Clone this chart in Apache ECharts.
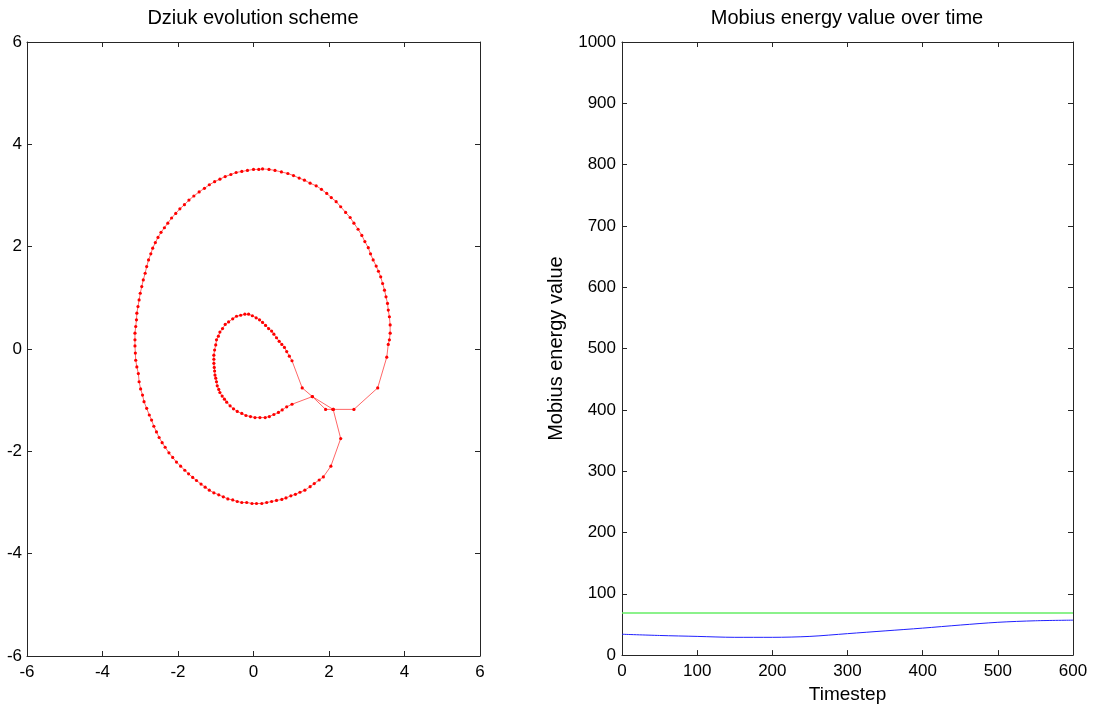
<!DOCTYPE html>
<html>
<head>
<meta charset="utf-8">
<script src="https://cdn.jsdelivr.net/npm/echarts@6/dist/echarts.min.js"></script>
<style>
  html, body { margin: 0; padding: 0; background: #ffffff; }
  #chart { width: 1097px; height: 709px; }
</style>
</head>
<body>
<div id="chart"></div>
<script>
// Curve vertices (x, y), split into the pieces the closed polygon passes through.
const bridgeDown = [[2.11,-1.18],[2.31,-1.75],[2.05,-2.29]];
const outerLoop = [
  [1.85,-2.50],[1.74,-2.56],[1.61,-2.63],[1.50,-2.69],[1.36,-2.76],[1.23,-2.80],[1.11,-2.84],[0.99,-2.87],
  [0.86,-2.91],[0.75,-2.94],[0.61,-2.96],[0.48,-2.98],[0.35,-3.00],[0.22,-3.02],[0.08,-3.02],[-0.04,-3.02],
  [-0.18,-3.00],[-0.31,-3.00],[-0.43,-2.98],[-0.55,-2.95],[-0.68,-2.93],[-0.80,-2.89],[-0.92,-2.85],[-1.05,-2.81],
  [-1.17,-2.76],[-1.28,-2.70],[-1.39,-2.64],[-1.51,-2.57],[-1.61,-2.51],[-1.72,-2.44],[-1.82,-2.37],[-1.93,-2.29],
  [-2.04,-2.21],[-2.14,-2.12],[-2.24,-2.03],[-2.34,-1.92],[-2.42,-1.83],[-2.50,-1.73],[-2.57,-1.62],[-2.64,-1.51],
  [-2.70,-1.39],[-2.76,-1.29],[-2.83,-1.16],[-2.90,-1.03],[-2.94,-0.90],[-2.99,-0.78],[-3.03,-0.64],[-3.05,-0.48],
  [-3.09,-0.35],[-3.12,-0.22],[-3.13,-0.08],[-3.14,0.06],[-3.14,0.18],[-3.14,0.31],[-3.12,0.44],[-3.10,0.57],
  [-3.09,0.70],[-3.06,0.83],[-3.03,0.96],[-3.00,1.09],[-2.96,1.22],[-2.92,1.35],[-2.87,1.48],[-2.83,1.61],
  [-2.78,1.74],[-2.72,1.86],[-2.67,1.97],[-2.60,2.08],[-2.53,2.18],[-2.45,2.28],[-2.36,2.37],[-2.27,2.46],
  [-2.17,2.56],[-2.06,2.65],[-1.95,2.74],[-1.83,2.82],[-1.71,2.91],[-1.58,2.99],[-1.44,3.07],[-1.30,3.14],
  [-1.17,3.21],[-1.03,3.27],[-0.89,3.32],[-0.75,3.37],[-0.60,3.41],[-0.46,3.45],[-0.31,3.47],[-0.16,3.49],
  [0.00,3.51],[0.14,3.51],[0.24,3.52],[0.41,3.51],[0.57,3.49],[0.74,3.46],[0.91,3.43],[1.06,3.39],
  [1.21,3.34],[1.35,3.30],[1.50,3.24],[1.66,3.19],[1.80,3.12],[1.94,3.04],[2.06,2.96],[2.19,2.88],
  [2.31,2.78],[2.44,2.67],[2.56,2.57],[2.66,2.46],[2.77,2.34],[2.87,2.22],[2.95,2.10],[3.04,1.98],
  [3.10,1.86],[3.17,1.74],[3.25,1.62],[3.31,1.52],[3.37,1.41],[3.42,1.28],[3.47,1.15],[3.51,1.02],
  [3.55,0.89],[3.57,0.76],[3.60,0.63],[3.62,0.47],[3.62,0.31],[3.60,0.18],[3.57,0.09],[3.53,-0.16]
];
const bridgeRight = [[3.29,-0.76],[2.66,-1.18],[2.11,-1.18],[1.56,-0.93]];
const innerLoop = [
  [1.02,-1.08],[0.88,-1.13],[0.76,-1.19],[0.66,-1.24],[0.54,-1.28],[0.42,-1.32],[0.31,-1.34],[0.17,-1.34],
  [0.04,-1.34],[-0.08,-1.32],[-0.20,-1.30],[-0.31,-1.26],[-0.43,-1.22],[-0.53,-1.17],[-0.62,-1.11],[-0.71,-1.04],
  [-0.77,-0.98],[-0.83,-0.92],[-0.89,-0.85],[-0.92,-0.79],[-0.96,-0.72],[-0.98,-0.64],[-1.00,-0.57],[-1.02,-0.51],
  [-1.03,-0.43],[-1.04,-0.36],[-1.05,-0.28],[-1.05,-0.20],[-1.05,-0.12],[-1.03,-0.02],[-1.00,0.08],[-0.98,0.18],
  [-0.93,0.25],[-0.89,0.33],[-0.82,0.40],[-0.75,0.48],[-0.66,0.53],[-0.55,0.59],[-0.45,0.64],[-0.34,0.66],
  [-0.23,0.68],[-0.13,0.68],[-0.03,0.65],[0.07,0.61],[0.16,0.57],[0.24,0.52],[0.32,0.46],[0.40,0.40],
  [0.48,0.35],[0.54,0.29],[0.61,0.22],[0.68,0.15],[0.75,0.09],[0.82,0.03],[0.88,-0.05],[0.95,-0.14],
  [1.02,-0.23]
];
const bridgeLeft = [[1.29,-0.76],[1.56,-0.93],[1.91,-1.18],[2.11,-1.18]];

// Energy per timestep.
const timesteps = [0, 50, 100, 150, 200, 250, 300, 350, 400, 450, 500, 550, 600];
const mobiusEnergy = [34, 32, 30.5, 29, 29, 30.5, 35, 39.5, 44, 49, 53.5, 56, 57];
const referenceEnergy = [68.5, 68.5, 68.5, 68.5, 68.5, 68.5, 68.5, 68.5, 68.5, 68.5, 68.5, 68.5, 68.5];

const curve = [].concat(bridgeDown, outerLoop, bridgeRight, innerLoop, bridgeLeft);

const FONT = "'Liberation Sans', Arial, Helvetica, sans-serif";
const AXIS_COLOR = '#262626';
const TICK_FONT = 17;
const TITLE_FONT = 20;
const XNAME_FONT = 19;

function tickLabel(margin) {
  return { show: true, color: '#000', fontSize: TICK_FONT, fontFamily: FONT, margin: margin,
           formatter: v => String(v) };
}

function boxAxis(opts) {
  return Object.assign({
    type: 'value',
    axisLine: { show: true, onZero: false, lineStyle: { color: AXIS_COLOR, width: 1 } },
    axisTick: { show: true, inside: true, length: 5, lineStyle: { color: AXIS_COLOR, width: 1 } },
    axisLabel: { show: false },
    splitLine: { show: false },
    nameTextStyle: { color: '#000', fontSize: TITLE_FONT, fontFamily: FONT }
  }, opts);
}

const chart = echarts.init(document.getElementById('chart'), null, { renderer: 'canvas' });

chart.setOption({
  animation: false,
  backgroundColor: '#ffffff',
  title: [
    { text: 'Dziuk evolution scheme', left: 253, top: 8, textAlign: 'center', padding: 0,
      textStyle: { fontSize: TITLE_FONT, fontWeight: 'normal', color: '#000', fontFamily: FONT } },
    { text: 'Mobius energy value over time', left: 847, top: 8, textAlign: 'center', padding: 0,
      textStyle: { fontSize: TITLE_FONT, fontWeight: 'normal', color: '#000', fontFamily: FONT } }
  ],
  grid: [
    { left: 27, top: 42, width: 453, height: 614, containLabel: false },
    { left: 622, top: 42, width: 451, height: 614, containLabel: false }
  ],
  xAxis: [
    boxAxis({ gridIndex: 0, position: 'bottom', min: -6, max: 6, interval: 2, axisLabel: tickLabel(8) }),
    boxAxis({ gridIndex: 0, position: 'top', min: -6, max: 6, interval: 2 }),
    boxAxis({ gridIndex: 1, position: 'bottom', min: 0, max: 600, interval: 100,
      name: 'Timestep', nameLocation: 'middle', nameGap: 28, axisLabel: tickLabel(8),
      nameTextStyle: { color: '#000', fontSize: XNAME_FONT, fontFamily: FONT } }),
    boxAxis({ gridIndex: 1, position: 'top', min: 0, max: 600, interval: 100 })
  ],
  yAxis: [
    boxAxis({ gridIndex: 0, position: 'left', min: -6, max: 6, interval: 2, axisLabel: tickLabel(5) }),
    boxAxis({ gridIndex: 0, position: 'right', min: -6, max: 6, interval: 2 }),
    boxAxis({ gridIndex: 1, position: 'left', min: 0, max: 1000, interval: 100,
      name: 'Mobius energy value', nameLocation: 'middle', nameGap: 56, axisLabel: tickLabel(6) }),
    boxAxis({ gridIndex: 1, position: 'right', min: 0, max: 1000, interval: 100 })
  ],
  series: [
    {
      name: 'curve',
      type: 'line',
      xAxisIndex: 0,
      yAxisIndex: 0,
      data: curve,
      showSymbol: true,
      showAllSymbol: true,
      symbol: 'circle',
      symbolSize: 3.2,
      itemStyle: { color: '#ff0000' },
      lineStyle: { color: 'rgba(255,0,0,0.6)', width: 1 },
      silent: true
    },
    {
      name: 'reference',
      type: 'line',
      xAxisIndex: 2,
      yAxisIndex: 2,
      data: timesteps.map((t, i) => [t, referenceEnergy[i]]),
      showSymbol: false,
      lineStyle: { color: '#66ee66', width: 1.5 },
      silent: true
    },
    {
      name: 'mobius',
      type: 'line',
      xAxisIndex: 2,
      yAxisIndex: 2,
      data: timesteps.map((t, i) => [t, mobiusEnergy[i]]),
      showSymbol: false,
      smooth: 0.3,
      lineStyle: { color: '#2020ff', width: 1 },
      silent: true
    }
  ]
});
</script>
</body>
</html>
